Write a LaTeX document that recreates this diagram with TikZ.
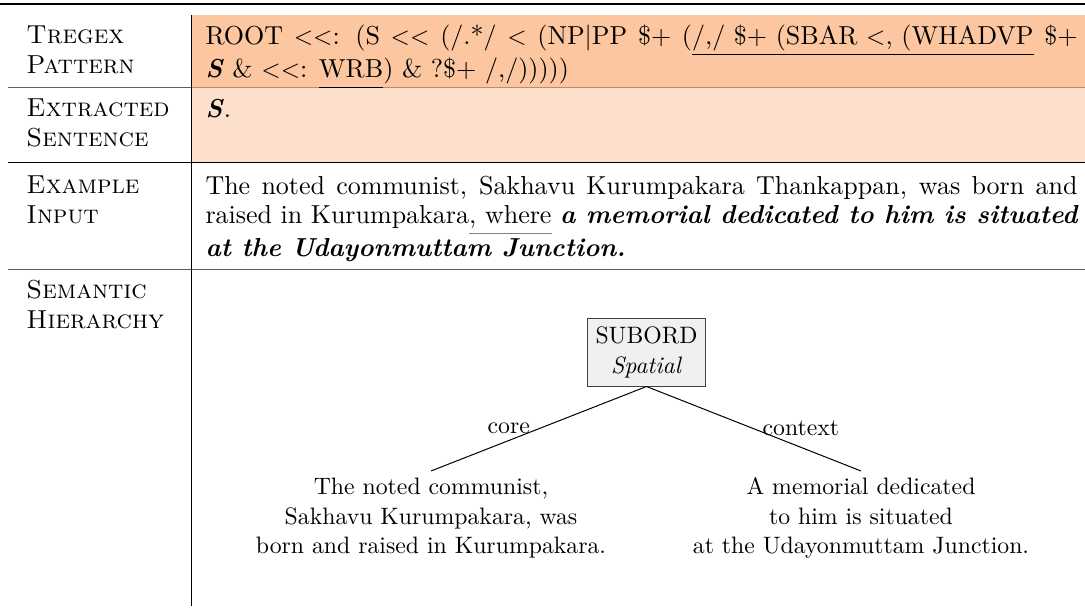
\documentclass[tikz,border=0pt]{standalone}
\definecolor{rowA}{RGB}{251,198,160}
\definecolor{rowB}{RGB}{252,224,204}
\definecolor{ruleA}{RGB}{190,140,105}
\definecolor{ruleL}{RGB}{95,95,95}
\definecolor{boxfill}{RGB}{240,240,240}
\newcommand\blul[1]{\underline{#1\vphantom{(}}}
\newcommand\grul[1]{\textcolor{gray}{\underline{\textcolor{black}{#1}\vphantom{(}}}}
\newcommand\LT{\mbox{$<$}}
\newcommand\bi[1]{\textbf{\textit{#1}}}
\newcommand\bodyfont{\fontsize{10.4}{11.8}\selectfont}
\newcommand\treefont{\fontsize{9.5}{11.8}\selectfont}
\tikzset{
  lbl/.style={anchor=base west, inner sep=0pt, font=\bodyfont\scshape},
  cell/.style={anchor=north west, yshift=8.26pt, inner sep=0pt, text width=348.8pt, align=justify, font=\bodyfont},
  rootbox/.style={anchor=north, draw=black!75, fill=boxfill, align=center, font=\treefont},
  leaf/.style={anchor=north, inner sep=1pt, align=center, font=\treefont},
  edgelbl/.style={midway, font=\treefont},
}
\begin{document}
\begin{tikzpicture}[x=0.4pt, y=-0.4pt]
\useasboundingbox (0,0) rectangle (1085,610);
% row backgrounds
\fill[rowA] (191,15) rectangle (1085,88);
\fill[rowB] (191,88) rectangle (1085,163);
% rules
\draw[line width=0.8pt] (0,4) -- (1085,4);
\draw[ruleL] (8,88) -- (191,88);
\draw[ruleA] (191,88) -- (1085,88);
\draw[black] (8,163) -- (1085,163);
\draw[black!65] (8,270) -- (1085,270);
\draw (191,15) -- (191,606);
% labels
\node[lbl] (tA) at (26,44) {Tregex};
\node[lbl] (tB) at (26,73.5) {Pattern};
\node[lbl] (eA) at (26,117) {Extracted};
\node[lbl] (eB) at (26,146.5) {Sentence};
\node[lbl] (xA) at (26,194) {Example};
\node[lbl] (xB) at (26,223.5) {Input};
\node[lbl] (sA) at (26,299) {Semantic};
\node[lbl] (sB) at (26,328.5) {Hierarchy};
% cells
\node[cell] (pat) at (205,44) {\strut ROOT \LT\LT: (S \LT\LT{} (/.*/ \LT{} (NP|PP \$+ (\blul{/,/ \$+ (SBAR \LT, (WHADVP} \$+\linebreak
\bi{S} \& \LT\LT: \blul{WRB}) \& ?\$+ /,/)))))};
\node[cell] (ext) at (205,117) {\strut\bi{S}.};
\node[cell] (inp) at (205,194) {\strut The noted communist, Sakhavu Kurumpakara Thankappan, was born and\linebreak
raised in Kurumpakara\grul{, where} \bi{a memorial dedicated to him is situated\linebreak at the Udayonmuttam Junction.}};
% tree
\node[rootbox] (root) at (646.5,318) {SUBORD\\\textit{Spatial}};
\node[leaf] (lf) at (431,471) {\strut The noted communist,\\ Sakhavu Kurumpakara, was\\ born and raised in Kurumpakara.};
\node[leaf] (rt) at (861,471) {\strut A memorial dedicated\\ to him is situated\\ at the Udayonmuttam Junction.};
\draw (root.south) -- (lf.north) node[edgelbl, left] (lc) {core};
\draw (root.south) -- (rt.north) node[edgelbl, right] (rc) {context};
\end{tikzpicture}
\end{document}
